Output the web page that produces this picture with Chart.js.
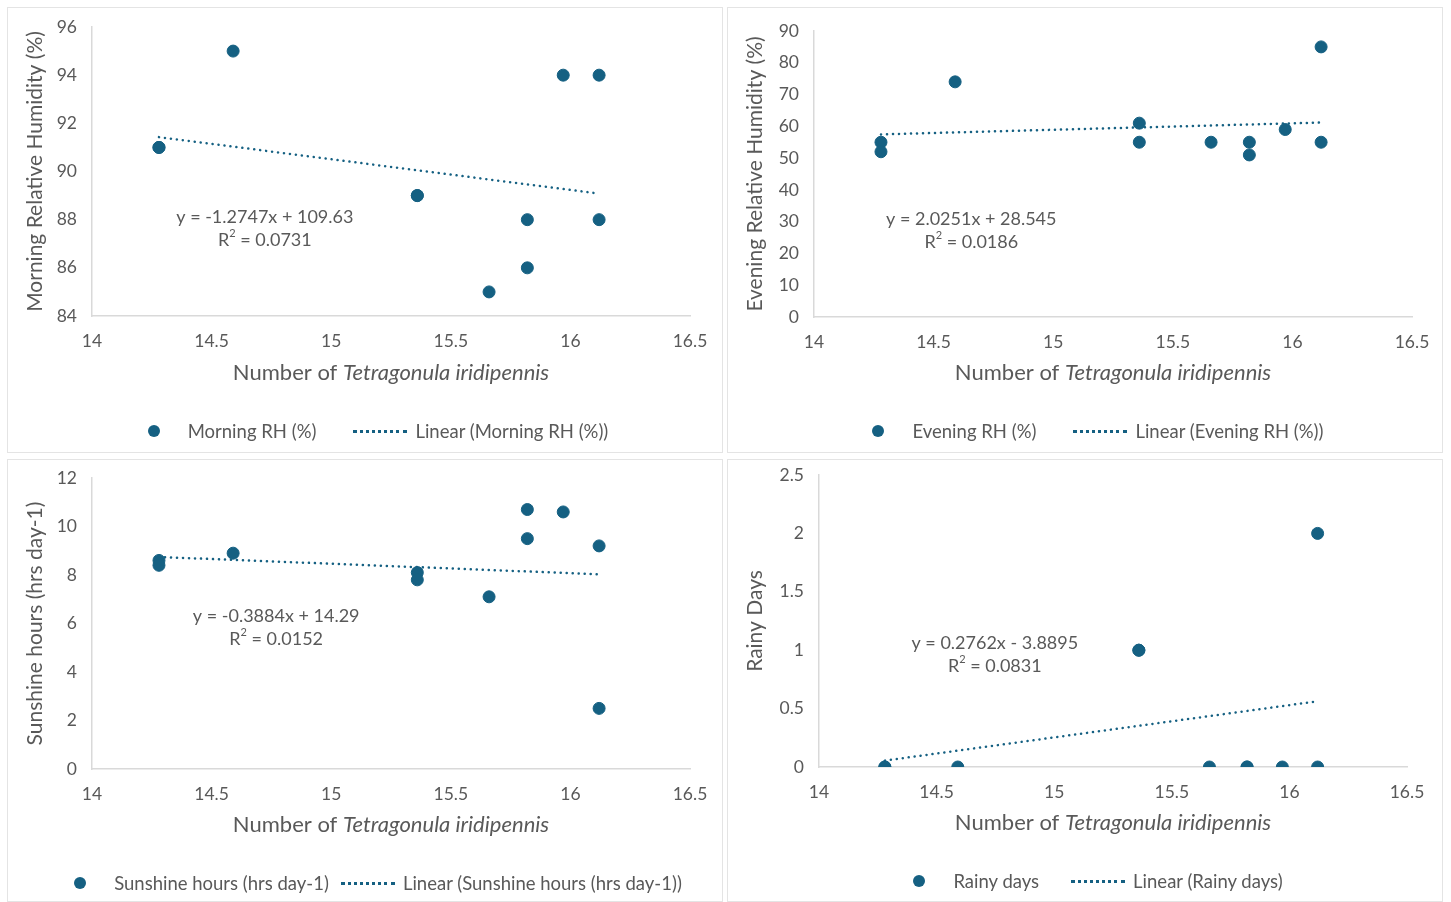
<!DOCTYPE html>
<html lang="en">
<head>
  <meta charset="UTF-8">
  <title>Tetragonula iridipennis vs weather</title>
  <script src="https://cdn.jsdelivr.net/npm/chart.js@4.4.3/dist/chart.umd.min.js"></script>
  <style>
    body { margin: 0; background: #fff; font-family: Lato, sans-serif; }
    .panel { position: absolute; border: 1px solid #e4e4e4; box-sizing: border-box; background: #fff; }
    .panel canvas { position: absolute; left: 0; top: 0; }
    .legend { position: absolute; left: 0; right: 0; padding-left: 26px; display: flex; justify-content: center; align-items: center;
              font-size: 18.5px; color: #595959; white-space: nowrap; }
    .legend .dot { display: inline-block; width: 12px; height: 12px; border-radius: 50%; background: #156082; margin-right: 28px; }
    .legend .dash { display: inline-block; width: 54px; border-top: 3px dotted #156082; margin: 0 8px 0 37px; }
  </style>
</head>
<body>
  <div class="panel" id="p1" style="left:7px;top:7px;width:716px;height:446px"><canvas id="c1"></canvas><div class="legend" style="top:412px"><span class="dot"></span>Morning RH (%)<span class="dash"></span>Linear (Morning RH (%))</div></div>
  <div class="panel" id="p2" style="left:727px;top:7px;width:716px;height:446px"><canvas id="c2"></canvas><div class="legend" style="top:412px"><span class="dot"></span>Evening RH (%)<span class="dash"></span>Linear (Evening RH (%))</div></div>
  <div class="panel" id="p3" style="left:7px;top:459px;width:716px;height:443px"><canvas id="c3"></canvas><div class="legend" style="top:412px"><span class="dot"></span>Sunshine hours (hrs day-1)<span class="dash" style="margin-left:12px"></span>Linear (Sunshine hours (hrs day-1))</div></div>
  <div class="panel" id="p4" style="left:727px;top:459px;width:716px;height:443px"><canvas id="c4"></canvas><div class="legend" style="top:410px"><span class="dot"></span>Rainy days<span class="dash" style="margin-left:32px"></span>Linear (Rainy days)</div></div>

  <script>
    // Number of bees (x) shared by all four panels
    const beeCounts = [14.28, 14.28, 14.59, 15.36, 15.36, 15.66, 15.82, 15.82, 15.97, 16.12, 16.12];

    const morningRH = [91, 91, 95, 89, 89, 85, 88, 86, 94, 94, 88];
    const eveningRH = [55, 52, 74, 61, 55, 55, 55, 51, 59, 85, 55];
    const sunshineHours = [8.6, 8.4, 8.9, 8.1, 7.8, 7.1, 10.7, 9.5, 10.6, 9.2, 2.5];
    const rainyDays = [0, 0, 0, 1, 1, 0, 0, 0, 0, 2, 0];

    // trendline coefficients as printed on the chart: [slope, intercept, r2]
    const morningFit = [-1.2747, 109.63, '0.0731'];
    const eveningFit = [2.0251, 28.545, '0.0186'];
    const sunshineFit = [-0.3884, 14.29, '0.0152'];
    const rainyFit = [0.2762, -3.8895, '0.0831'];

    const xTicks = [14, 14.5, 15, 15.5, 16, 16.5];

    const BLUE = '#156082';
    const TEXT = '#595959';
    const FONT = 'Lato, sans-serif';

    function eqText(fit) {
      const sign = fit[1] < 0 ? ' - ' : ' + ';
      return 'y = ' + fit[0] + 'x' + sign + Math.abs(fit[1]);
    }

    // draws the italic x title and the equation label
    const extras = {
      id: 'extras',
      afterDraw(chart, args, opts) {
        const ctx = chart.ctx;
        const a = chart.chartArea;
        ctx.save();
        ctx.fillStyle = TEXT;
        ctx.textBaseline = 'middle';
        // x axis title
        const t1 = 'Number of ', t2 = 'Tetragonula iridipennis';
        ctx.font = '22px ' + FONT;
        const w1 = ctx.measureText(t1).width;
        ctx.font = 'italic 22px ' + FONT;
        const w2 = ctx.measureText(t2).width;
        let x = (a.left + a.right) / 2 - (w1 + w2) / 2;
        const ty = a.bottom + opts.titleGap;
        ctx.textAlign = 'left';
        ctx.font = '22px ' + FONT;
        ctx.fillText(t1, x, ty);
        ctx.font = 'italic 22px ' + FONT;
        ctx.fillText(t2, x + w1, ty);
        // equation
        const cx = a.left + (a.right - a.left) * opts.eqX;
        const cy = a.top + (a.bottom - a.top) * opts.eqY;
        ctx.font = '18px ' + FONT;
        ctx.textAlign = 'center';
        ctx.fillText(eqText(opts.fit), cx, cy);
        const r1 = 'R', r3 = ' = ' + opts.fit[2];
        const wr1 = ctx.measureText(r1).width, wr3 = ctx.measureText(r3).width;
        ctx.font = '11px ' + FONT;
        const wr2 = ctx.measureText('2').width;
        let rx = cx - (wr1 + wr2 + wr3) / 2;
        ctx.textAlign = 'left';
        ctx.font = '18px ' + FONT;
        ctx.fillText(r1, rx, cy + 23);
        ctx.font = '11px ' + FONT;
        ctx.fillText('2', rx + wr1, cy + 17);
        ctx.font = '18px ' + FONT;
        ctx.fillText(r3, rx + wr1 + wr2, cy + 23);
        ctx.restore();
      }
    };

    function makeChart(id, w, h, ys, fit, yTitle, yMin, yMax, yStep, box, eqPos) {
      const pts = beeCounts.map((x, i) => ({ x: x, y: ys[i] }));
      const xLo = Math.min(...beeCounts), xHi = Math.max(...beeCounts);
      const trend = [xLo, xHi].map(x => ({ x: x, y: fit[0] * x + fit[1] }));
      const cv = document.getElementById(id);
      cv.width = w; cv.height = h;
      return new Chart(cv, {
        type: 'scatter',
        data: {
          datasets: [
            { label: 'points', data: pts, backgroundColor: BLUE, borderColor: BLUE, pointRadius: 6, pointHoverRadius: 6 },
            { label: 'trend', type: 'line', data: trend, showLine: true, borderColor: BLUE, borderWidth: 2.5,
              borderDash: [0.1, 5.9], borderCapStyle: 'round', pointRadius: 0, fill: false }
          ]
        },
        options: {
          responsive: false,
          animation: false,
          layout: { padding: { left: 0, top: box.top, right: box.right, bottom: h - box.bottom - box.xh } },
          plugins: {
            legend: { display: false },
            tooltip: { enabled: false },
            extras: { fit: fit, eqX: eqPos[0], eqY: eqPos[1], titleGap: box.titleGap }
          },
          scales: {
            x: {
              type: 'linear', min: 14, max: 16.5,
              afterBuildTicks: s => { s.ticks = xTicks.map(v => ({ value: v })); },
              afterFit: s => { s.height = box.xh; s.paddingLeft = 0; s.paddingRight = 0; },
              grid: { display: false, drawTicks: false },
              border: { display: true, color: '#d9d9d9', width: 1.5 },
              ticks: { color: TEXT, font: { family: FONT, size: 17.5 }, padding: 15, maxRotation: 0, callback: v => String(v) }
            },
            y: {
              min: yMin, max: yMax,
              afterFit: s => { s.width = box.left; s.paddingTop = 0; s.paddingBottom = 0; },
              grid: { display: false, drawTicks: false },
              border: { display: true, color: '#d9d9d9', width: 1.5 },
              ticks: { stepSize: yStep, color: TEXT, font: { family: FONT, size: 17.5 }, padding: 15, callback: v => String(v) },
              title: { display: true, text: yTitle, color: TEXT, font: { family: FONT, size: 21 }, padding: { top: 15, bottom: 0 } }
            }
          }
        },
        plugins: [extras]
      });
    }

    makeChart('c1', 714, 444, morningRH, morningFit, 'Morning Relative Humidity (%)', 84, 96, 2,
      { left: 84, top: 19, right: 32, bottom: 308, xh: 70, titleGap: 57 }, [0.289, 0.657]);
    makeChart('c2', 714, 444, eveningRH, eveningFit, 'Evening Relative Humidity (%)', 0, 90, 10,
      { left: 86, top: 23, right: 30, bottom: 309, xh: 70, titleGap: 56 }, [0.263, 0.657]);
    makeChart('c3', 714, 441, sunshineHours, sunshineFit, 'Sunshine hours (hrs day-1)', 0, 12, 2,
      { left: 84, top: 18, right: 32, bottom: 309, xh: 70, titleGap: 56 }, [0.308, 0.474]);
    makeChart('c4', 714, 441, rainyDays, rainyFit, 'Rainy Days', 0, 2.5, 0.5,
      { left: 91, top: 15, right: 35, bottom: 307, xh: 70, titleGap: 56 }, [0.299, 0.575]);
  </script>
</body>
</html>
